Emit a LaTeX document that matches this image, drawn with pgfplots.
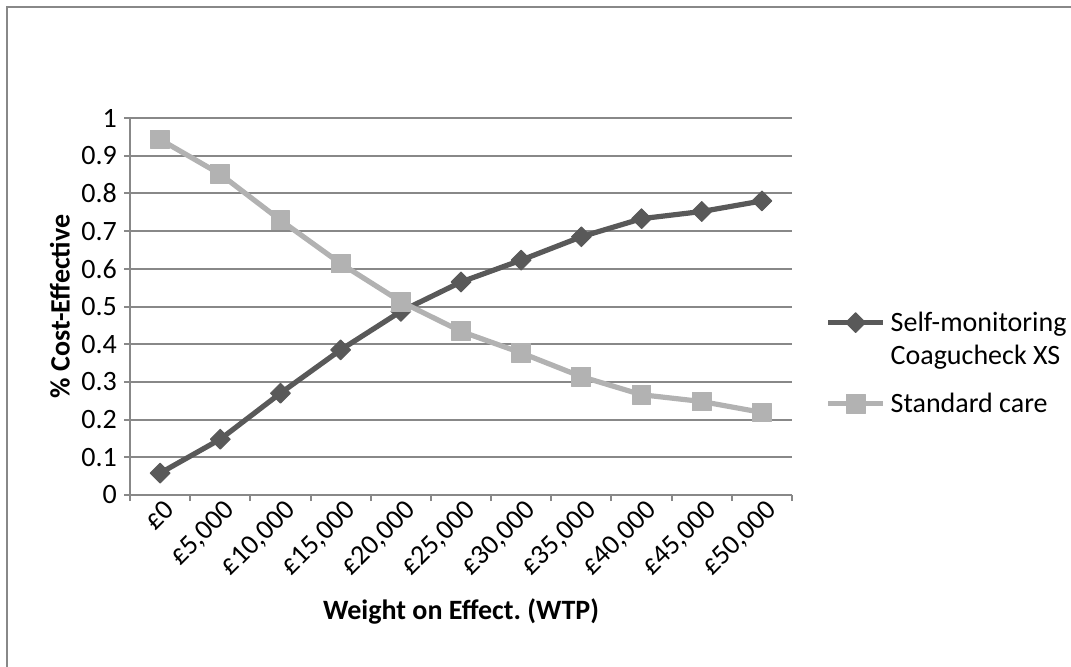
\documentclass[border=0pt]{standalone}
\usepackage{fontspec}
\setmainfont{Carlito}
\usepackage{pgfplots}
\pgfplotsset{compat=1.18}

\definecolor{selfc}{HTML}{595959}
\definecolor{stdc}{HTML}{B2B2B2}
\definecolor{gridc}{HTML}{888888}
\newcommand\cf{\fontsize{14}{17}\selectfont}

\begin{document}
\begin{tikzpicture}[x=1pt,y=1pt]
\useasboundingbox (0,0) rectangle (535.5,333);
% chart frame (right and bottom edges fall outside the picture)
\draw[gridc, line width=1pt] (3.5,-2) -- (3.5,329.5) -- (540,329.5);
\begin{axis}[
    at={(65pt,85.5pt)}, anchor=south west,
    scale only axis, width=331pt, height=188.5pt,
    xmin=-0.5, xmax=10.5, ymin=0, ymax=1,
    axis lines=left,
    axis line style={gridc, line width=1pt, -},
    xtick={0,...,10},
    xticklabels={{£0},{£5,000},{£10,000},{£15,000},{£20,000},{£25,000},{£30,000},{£35,000},{£40,000},{£45,000},{£50,000}},
    minor xtick={-0.5,0.5,...,10.5},
    major x tick style={draw=none},
    minor x tick style={gridc, line width=1pt},
    minor tick length=3pt,
    ytick={0,0.1,0.2,0.3,0.4,0.5,0.6,0.7,0.8,0.9,1},
    ytick style={gridc, line width=1pt},
    major tick length=3pt,
    tick align=outside,
    ymajorgrids,
    grid style={gridc, line width=1pt},
    yticklabel style={/pgf/number format/.cd, fixed, precision=1, assume math mode=true},
    every tick label/.append style={font=\cf},
    xticklabel style={rotate=45, anchor=north east, inner sep=1pt, xshift=3pt, yshift=1pt},
    xlabel={Weight on Effect.\ (WTP)},
    ylabel={\% Cost-Effective},
    label style={font=\cf\bfseries},
    xlabel style={at={(axis description cs:0.5,-0.31)}, anchor=center},
    ylabel style={at={(axis description cs:-0.106,0.5)}, anchor=center, rotate=0},
    legend style={at={(axis description cs:1.05,0.498)}, anchor=north west,
        draw=none, fill=none, inner sep=0pt, row sep=1.5pt, column sep=2.5pt,
        font=\cf, nodes={inner sep=0pt}},
    legend cell align=left,
    legend image code/.code={
        \draw[mark repeat=2, mark phase=2] plot coordinates {(0pt,0pt) (13.75pt,0pt) (27.5pt,0pt)};
    },
    line join=round,
]
\addplot[selfc, line width=2.6pt, mark=square*, mark size=3.5pt,
    mark options={rotate=45, line width=0.5pt}] coordinates {
    (0,0.058) (1,0.148) (2,0.270) (3,0.385) (4,0.487) (5,0.565)
    (6,0.623) (7,0.685) (8,0.733) (9,0.752) (10,0.780)
};
\addlegendentry[text height=12pt, text depth=3pt]{Self-monitoring}
\addlegendimage{empty legend}
\addlegendentry[text height=12pt, text depth=10.5pt]{Coagucheck XS}
\addplot[stdc, line width=2.6pt, mark=square*, mark size=4.7pt,
    mark options={line width=0.5pt}] coordinates {
    (0,0.943) (1,0.851) (2,0.729) (3,0.614) (4,0.513) (5,0.434)
    (6,0.377) (7,0.314) (8,0.266) (9,0.248) (10,0.219)
};
\addlegendentry[text height=12pt, text depth=3pt]{Standard care}
\end{axis}
\end{tikzpicture}
\end{document}
